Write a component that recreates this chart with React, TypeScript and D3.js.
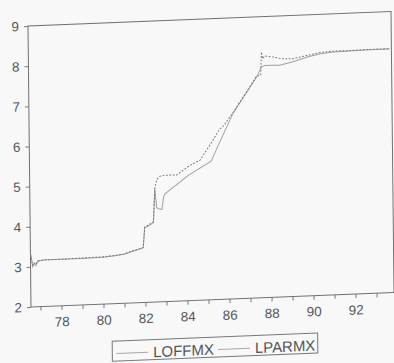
import React, { useEffect, useRef } from 'react';
import * as d3 from 'd3';

// LOFFMX (solid) and LPARMX (dotted)
const offYears = [76.58, 76.65, 76.72, 76.8, 76.9, 77.2, 78.0, 79.0, 80.0, 80.5, 81.0, 81.5, 81.92, 82.0, 82.17, 82.42, 82.5, 82.58, 82.67, 82.83, 82.92, 83.0, 84.1, 85.2, 85.47, 86.26, 87.4, 87.64, 87.8, 88.15, 88.5, 89.1, 89.82, 90.45, 91.06, 92.0, 93.0, 93.75];
const offValues = [3.3, 3.0, 3.08, 3.02, 3.14, 3.16, 3.16, 3.16, 3.17, 3.19, 3.22, 3.3, 3.36, 3.86, 3.9, 3.98, 4.84, 4.35, 4.32, 4.3, 4.62, 4.69, 5.12, 5.45, 5.76, 6.62, 7.5, 7.75, 7.78, 7.78, 7.77, 7.84, 7.95, 8.02, 8.05, 8.06, 8.07, 8.07];

const parYears = [76.58, 76.65, 76.72, 76.8, 76.9, 77.2, 78.0, 79.0, 80.0, 80.5, 81.0, 81.5, 81.92, 82.0, 82.17, 82.42, 82.5, 82.6, 82.75, 83.0, 83.54, 84.19, 84.67, 85.29, 85.62, 85.76, 86.26, 87.4, 87.6, 87.64, 87.7, 87.8, 88.24, 88.62, 89.1, 89.82, 90.45, 91.06, 92.0, 93.75];
const parValues = [3.22, 3.04, 3.1, 3.05, 3.14, 3.16, 3.16, 3.17, 3.18, 3.2, 3.23, 3.31, 3.37, 3.88, 3.92, 4.0, 4.84, 5.05, 5.13, 5.15, 5.14, 5.37, 5.49, 5.97, 6.25, 6.29, 6.64, 7.52, 7.55, 8.12, 7.95, 8.02, 7.98, 7.93, 7.92, 7.99, 8.05, 8.07, 8.07, 8.08];

const yTicks = [2, 3, 4, 5, 6, 7, 8, 9];
const xTicks = [77, 78, 79, 80, 81, 82, 83, 84, 85, 86, 87, 88, 89, 90, 91, 92, 93];
const xLabels = [78, 80, 82, 84, 86, 88, 90, 92];
const seriesNames = ['LOFFMX', 'LPARMX'];

const App: React.FC = () => {
  const svgRef = useRef<SVGSVGElement>(null);

  useEffect(() => {
    if (!svgRef.current) return;
    const svg = d3.select(svgRef.current);
    svg.selectAll('*').remove();

    const width = 394;
    const height = 363;
    const innerWidth = 364;
    const innerHeight = 281;
    const font = '"Liberation Sans", Arial, sans-serif';

    svg.append('rect').attr('width', width).attr('height', height).attr('fill', '#f8f8f8');

    // the scanned page is a little tilted
    const g = svg.append('g')
      .attr('transform', `matrix(${363 / 364},${-14.5 / 364},${3 / 281},1,28,26)`);

    const xScale = d3.scaleLinear().domain([76.55, 93.83]).range([0, innerWidth]);
    const yScale = d3.scaleLinear().domain([2, 9]).range([innerHeight, 0]);

    // Y axis
    const yAxis = g.append('g')
      .call(d3.axisLeft(yScale).tickValues(yTicks).tickSize(4).tickSizeOuter(0).tickPadding(5).tickFormat(d3.format('d')));
    yAxis.select('.domain').remove();
    yAxis.selectAll('line').attr('stroke', '#777');
    yAxis.selectAll('text').style('font-family', font).style('font-size', '13.5px').attr('fill', '#555');

    // X axis
    const xAxis = g.append('g')
      .attr('transform', `translate(0,${innerHeight})`)
      .call(d3.axisBottom(xScale).tickValues(xTicks).tickSize(4).tickSizeOuter(0).tickPadding(7)
        .tickFormat(d => (xLabels.includes(d as number) ? String(d) : '')));
    xAxis.select('.domain').remove();
    xAxis.selectAll('line').attr('stroke', '#777');
    xAxis.selectAll('text').style('font-family', font).style('font-size', '13.5px').attr('fill', '#555');

    // Frame
    g.append('rect')
      .attr('width', innerWidth)
      .attr('height', innerHeight)
      .attr('fill', 'none')
      .attr('stroke', '#707070')
      .attr('stroke-width', 1);

    const line = d3.line<[number, number]>()
      .x(d => xScale(d[0]))
      .y(d => yScale(d[1]));

    const offData = offYears.map((yr, i) => [yr, offValues[i]] as [number, number]);
    const parData = parYears.map((yr, i) => [yr, parValues[i]] as [number, number]);

    g.append('path')
      .datum(offData)
      .attr('d', line)
      .attr('fill', 'none')
      .attr('stroke', '#a0a0a0')
      .attr('stroke-width', 1);

    g.append('path')
      .datum(parData)
      .attr('d', line)
      .attr('fill', 'none')
      .attr('stroke', '#777')
      .attr('stroke-width', 1)
      .attr('stroke-dasharray', '1.8,1.6');

    // Legend
    const legend = g.append('g').attr('transform', 'translate(81,318.5)');
    legend.append('rect')
      .attr('width', 206)
      .attr('height', 20)
      .attr('fill', 'none')
      .attr('stroke', '#777');

    const items = [
      { name: seriesNames[0], x0: 4, color: '#a8a8a8' },
      { name: seriesNames[1], x0: 106, color: '#a8a8a8' }
    ];
    items.forEach(it => {
      legend.append('line')
        .attr('x1', it.x0)
        .attr('x2', it.x0 + 32)
        .attr('y1', 12.5)
        .attr('y2', 12.5)
        .attr('stroke', it.color)
        .attr('stroke-width', 1);
      legend.append('text')
        .attr('x', it.x0 + 37)
        .attr('y', 17.5)
        .style('font-family', font)
        .style('font-size', '15px')
        .attr('fill', '#555')
        .text(it.name);
    });
  }, []);

  return (
    <svg ref={svgRef} width={394} height={363} style={{ position: 'absolute', left: 0, top: 0 }}></svg>
  );
};

export default App;
